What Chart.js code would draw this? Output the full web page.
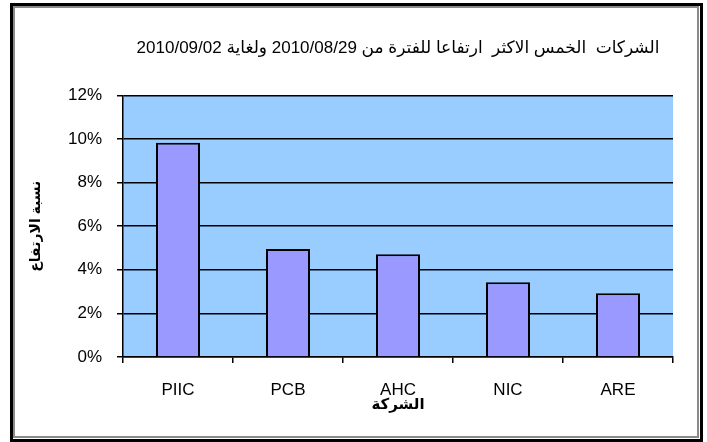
<!DOCTYPE html>
<html lang="ar">
<head>
    <meta charset="UTF-8">
    <title>الشركات الخمس الاكثر ارتفاعا</title>
    <script src="https://cdn.jsdelivr.net/npm/chart.js"></script>
    <style>
        body {
            margin: 0;
            background: #fff;
        }
        canvas {
            display: block;
        }
    </style>
</head>
<body>
    <canvas id="riseChart" width="707" height="442"></canvas>

    <script>
        // data
        const companies = ['PIIC', 'PCB', 'AHC', 'NIC', 'ARE'];
        const risePercent = [9.83, 4.95, 4.71, 3.43, 2.92];
        const yTicks = [0, 2, 4, 6, 8, 10, 12];

        const chartTitle = 'الشركات  الخمس الاكثر  ارتفاعا للفترة من 2010/08/29 ولغاية 2010/09/02';
        const yTitle = 'نسبة الارتفاع';
        const xTitle = 'الشركة';

        const fontFamily = "'Liberation Sans', Arial, 'DejaVu Sans', sans-serif";

        // white page, double frame and blue plot area
        const frame = {
            id: 'frame',
            beforeDraw(chart) {
                const ctx = chart.ctx;
                const a = chart.chartArea;
                ctx.save();
                ctx.fillStyle = '#fff';
                ctx.fillRect(0, 0, chart.width, chart.height);
                ctx.strokeStyle = '#000';
                ctx.lineWidth = 3;
                ctx.strokeRect(11.5, 4.5, 690, 436);
                ctx.strokeStyle = '#8a8a8a';
                ctx.lineWidth = 2;
                ctx.strokeRect(14, 7, 684, 430);
                ctx.fillStyle = '#99CCFF';
                ctx.fillRect(a.left, a.top, a.right - a.left, a.bottom - a.top);
                ctx.restore();
            }
        };

        const ctx = document.getElementById('riseChart').getContext('2d');
        new Chart(ctx, {
            type: 'bar',
            data: {
                labels: companies,
                datasets: [{
                    label: yTitle,
                    data: risePercent,
                    backgroundColor: '#9999FF',
                    borderColor: '#000',
                    borderWidth: 2,
                    categoryPercentage: 1,
                    barPercentage: 0.4
                }]
            },
            options: {
                responsive: false,
                animation: false,
                layout: {
                    padding: { left: 0, right: 34, top: 0, bottom: 0 }
                },
                plugins: {
                    legend: { display: false },
                    tooltip: { enabled: false },
                    title: {
                        display: true,
                        text: chartTitle,
                        fullSize: false,
                        color: '#000',
                        font: { family: fontFamily, size: 17, weight: 'normal', lineHeight: 1.2 },
                        padding: { top: 38, bottom: 37 }
                    }
                },
                scales: {
                    x: {
                        afterFit(scale) { scale.height = 85; },
                        grid: {
                            drawOnChartArea: false,
                            color: '#000',
                            lineWidth: 1.5,
                            tickLength: 6
                        },
                        border: { color: '#000', width: 1.5 },
                        ticks: {
                            color: '#000',
                            padding: 17,
                            font: { family: fontFamily, size: 17 }
                        },
                        title: {
                            display: true,
                            text: xTitle,
                            color: '#000',
                            font: { family: fontFamily, size: 15, weight: 'bold', lineHeight: 1.2 },
                            padding: { top: 0, bottom: 28 }
                        }
                    },
                    y: {
                        min: 0,
                        max: 12,
                        afterFit(scale) { scale.width = 123; },
                        afterBuildTicks(scale) {
                            scale.ticks = yTicks.map(v => ({ value: v }));
                        },
                        grid: {
                            color: '#000',
                            lineWidth: 1.5,
                            tickLength: 6
                        },
                        border: { color: '#000', width: 1.5 },
                        ticks: {
                            color: '#000',
                            padding: 15,
                            font: { family: fontFamily, size: 17 },
                            callback: v => v + '%'
                        },
                        title: {
                            display: true,
                            text: yTitle,
                            color: '#000',
                            font: { family: fontFamily, size: 14, weight: 'bold', lineHeight: 1.2 },
                            padding: { top: 28, bottom: 0 }
                        }
                    }
                }
            },
            plugins: [frame]
        });
    </script>
</body>
</html>
